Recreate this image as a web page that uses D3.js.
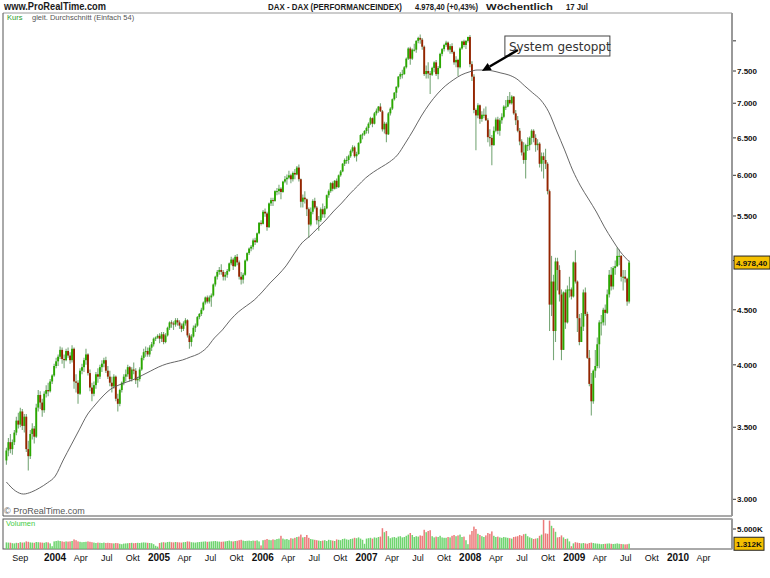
<!DOCTYPE html>
<html>
<head>
<meta charset="utf-8">
<script src="https://cdn.jsdelivr.net/npm/d3@7"></script>
<style>
body { margin: 0; background: #fff; }
svg { display: block; }
</style>
</head>
<body>
<div id="chart"></div>
<script>
var W = 770, H = 578;

// weekly candles, first week starts Monday 14 Jul 2003, last is week of 13 Jul 2009
var firstWeek = "2003-07-14";

var opens = [
	3260,3330,3390,3340,3390,3460,3550,3520,3620,3510,3580,3340,3290,3450,3490,3430,3650,3750,3690,3630,3760,3790,3780,3860,
	3910,3990,4030,4070,4130,4050,4040,4120,4080,4040, 4140,3860,3850,3760,3950,3980,4040,4090,3930,3810, 3760,3830,3920,3900,3980,4010,4040,3950,3900,3850,
	3820,3900,3720,3680,3790,3850,3900,3920,3980,3880, 3960,3950,3870,3880,3960,4060,4110,4120,4090,4150, 4180,4230,4240,
	4256,4230,4270,4200,4260,4330,4380,4370,4360,4400, 4380,4350,4320,4370,4400,4260,4200,4250,4330,4350, 4430,4460,4500,4570,4620,4580,4620,4640,4750,4830,
	4880,4900,4880,4830,4850,4890,4970,5010,4940,5040, 4980,4830,4800,4850,5000,5080,5130,5150,5220,5200, 5300,5420,
	5408,5550,5530,5370,5650,5690,5680,5800,5800,5830, 5790,5920,5950,5970,6000,5950,6030,6010,6100,5950, 5670,5720,5700,5580,5400,5550,5680,5600,5450,5450,
	5580,5520,5590,5750,5800,5900,5830,5930,5850,6000, 6050,6150,6200,6200,6250,6320,6370,6250,6280,6430, 6540,6550,
	6597,6640,6700,6780,6700,6850,6890,6950,6880,6620, 6700,6550,6850,6920,7060,7160,7250,7410,7450,7450, 7560,7700,7870,7700,7850,7850,8000,8050,8020,7900,
	7450,7500,7460,7440,7550,7640,7450,7550,7780,7860, 7930,7970,7850,7910,7810,7640,7680,7560,7870,7990, 7930,8000,
	8067,7610,7410,6900,6820,6970,6770,6830,6830,6750, 6510,6500,6400,6600,6760,6600,6750,6800,6950,6950, 7050,7000,7100,6850,6750,6600,6450,6300,6200,6400,
	6400,6500,6600,6500,6400,6420,6150,6250,6200,6150, 5800,4550,4780,4300,4990,4900,4650,4130,4670,4380, 4700,4700,
	4630,4980,4780,4420,4200,4340,4670,4460,4060,3840, 3700,3950,3990,4180,4380,4380,4500,4470,4650,4850, 4730,4920,4940,5050,5050,4830,4830,4810,4580
];
var highs = [
	3350,3420,3450,3410,3480,3580,3610,3650,3640,3600,3600,3400,3480,3530,3510,3680,3790,3780,3720,3780,3830,3850,3880,3920,
	4010,4060,4090,4160,4150,4090,4140,4150,4110,4170, 4150,3920,3870,3970,4010,4060,4140,4100,3960,3850, 3860,3940,3970,4000,4040,4060,4070,3990,3950,3900,
	3920,3910,3760,3800,3860,3920,3960,4000,3990,3980, 4020,3970,3900,3980,4080,4140,4160,4150,4170,4200, 4240,4250,4270,
	4280,4290,4290,4280,4340,4390,4400,4390,4420,4420, 4400,4370,4390,4420,4410,4280,4270,4350,4370,4440, 4470,4520,4580,4630,4640,4640,4660,4760,4840,4900,
	4930,4960,4900,4880,4910,4980,5040,5030,5060,5070, 5000,4880,4870,5010,5090,5140,5170,5240,5250,5310, 5430,5450,
	5570,5590,5550,5660,5720,5720,5810,5840,5880,5850, 5930,5990,6010,6060,6020,6050,6080,6120,6140,5960, 5760,5800,5710,5600,5600,5700,5720,5620,5500,5600,
	5650,5620,5760,5820,5910,5920,5940,5960,6010,6070, 6160,6220,6250,6270,6340,6400,6390,6310,6440,6550, 6570,6610,
	6660,6720,6800,6790,6870,6920,6960,7000,6900,6730, 6720,6870,6940,7070,7170,7260,7420,7480,7520,7580, 7720,7890,7900,7870,7950,8010,8070,8110,8050,7920,
	7590,7640,7500,7570,7660,7680,7580,7800,7880,7950, 8000,7990,7940,7960,7830,7740,7700,7890,8000,8020, 8010,8070,
	8100,7660,7450,6920,7000,6980,6880,6920,6950,6780, 6620,6540,6660,6790,6800,6780,6850,6970,7050,7110, 7170,7120,7110,6900,6810,6640,6480,6440,6420,6510,
	6520,6620,6620,6550,6480,6440,6300,6300,6350,6170, 5820,5050,4850,5030,5030,4950,4700,4680,4700,4740, 4830,4720,
	4990,5110,4790,4460,4470,4700,4720,4480,4130,3930, 3960,4130,4240,4400,4450,4520,4550,4700,4900,4930, 4940,5000,5140,5120,5060,4900,4900,4820,5000
];
var lows = [
	3230,3290,3310,3300,3370,3440,3490,3500,3480,3460,3320,3190,3270,3410,3380,3420,3620,3640,3580,3610,3730,3740,3770,3840,
	3900,3970,3990,4050,4010,3970,4030,4060,4010,4020, 3800,3770,3680,3750,3920,3940,4000,3910,3780,3700, 3740,3800,3850,3880,3940,3980,3930,3880,3820,3770,
	3800,3700,3620,3660,3770,3830,3860,3900,3860,3860, 3920,3840,3810,3860,3950,4040,4070,4070,4070,4120, 4160,4210,4230,
	4190,4200,4180,4190,4250,4310,4330,4310,4340,4350, 4320,4290,4300,4350,4240,4140,4160,4240,4290,4340, 4410,4440,4490,4550,4560,4560,4530,4630,4730,4800,
	4850,4850,4790,4790,4820,4880,4950,4900,4930,4950, 4800,4750,4760,4840,4990,5060,5100,5120,5170,5190, 5290,5390,
	5400,5490,5330,5360,5620,5620,5670,5750,5760,5700, 5780,5900,5880,5950,5900,5920,5950,6000,5920,5600, 5600,5650,5500,5250,5380,5520,5580,5400,5330,5430,
	5480,5480,5580,5720,5780,5800,5820,5830,5840,5980, 6040,6120,6150,6150,6230,6300,6230,6180,6270,6420, 6480,6530,
	6560,6560,6680,6650,6690,6820,6860,6870,6590,6560, 6440,6540,6820,6900,7040,7080,7230,7370,7380,7440, 7540,7680,7600,7680,7820,7800,7960,7950,7850,7420,
	7380,7380,7140,7420,7480,7420,7370,7540,7740,7820, 7900,7820,7780,7780,7600,7560,7420,7540,7850,7890, 7860,7970,
	7560,7340,6850,6330,6780,6700,6730,6780,6740,6440, 6380,6130,6390,6580,6550,6530,6700,6780,6900,6940, 6980,6980,6830,6680,6580,6400,6260,6150,5960,6320,
	6330,6410,6440,6310,6330,6100,6050,5960,6080,5760, 4300,4440,4040,4200,4690,4580,4040,4130,4320,4370, 4620,4600,
	4620,4760,4290,4170,4200,4300,4440,4050,3820,3590, 3680,3890,3970,3970,4260,4350,4350,4460,4620,4690, 4700,4850,4930,4950,4780,4690,4770,4540,4560
];
var closes = [
	3330,3390,3340,3390,3460,3550,3520,3620,3510,3580,3340,3290,3450,3490,3430,3650,3750,3690,3630,3760,3790,3780,3860,3910,
	3990,4030,4070,4130,4050,4040,4120,4080,4040,4140, 3860,3850,3760,3950,3980,4040,4090,3930,3810,3760, 3830,3920,3900,3980,4010,4040,3950,3900,3850,3820,
	3900,3720,3680,3790,3850,3900,3920,3980,3880,3960, 3950,3870,3880,3960,4060,4110,4120,4090,4150,4180, 4230,4240,4256,
	4230,4270,4200,4260,4330,4380,4370,4360,4400,4380, 4350,4320,4370,4400,4260,4200,4250,4330,4350,4430, 4460,4500,4570,4620,4580,4620,4640,4750,4830,4880,
	4900,4880,4830,4850,4890,4970,5010,4940,5040,4980, 4830,4800,4850,5000,5080,5130,5150,5220,5200,5300, 5420,5408,
	5550,5530,5370,5650,5690,5680,5800,5800,5830,5790, 5920,5950,5970,6000,5950,6030,6010,6100,5950,5670, 5720,5700,5580,5400,5550,5680,5600,5450,5450,5580,
	5520,5590,5750,5800,5900,5830,5930,5850,6000,6050, 6150,6200,6200,6250,6320,6370,6250,6280,6430,6540, 6550,6597,
	6640,6700,6780,6700,6850,6890,6950,6880,6620,6700, 6550,6850,6920,7060,7160,7250,7410,7450,7450,7560, 7700,7870,7700,7850,7850,8000,8050,8020,7900,7450,
	7500,7460,7440,7550,7640,7450,7550,7780,7860,7930, 7970,7850,7910,7810,7640,7680,7560,7870,7990,7930, 8000,8067,
	7610,7410,6900,6820,6970,6770,6830,6830,6750,6510, 6500,6400,6600,6760,6600,6750,6800,6950,6950,7050, 7000,7100,6850,6750,6600,6450,6300,6200,6400,6400,
	6500,6600,6500,6400,6420,6150,6250,6200,6150,5800, 4550,4780,4300,4990,4900,4650,4130,4670,4380,4700, 4700,4630,
	4980,4780,4420,4200,4340,4670,4460,4060,3840,3700, 3950,3990,4180,4380,4380,4500,4470,4650,4850,4730, 4920,4940,5050,5050,4830,4830,4810,4580,4978.4
];
// weekly volume in thousands
var volumes = [
	1650,1600,1580,1450,1400,1550,1500,1700,1600,1650,1900,1800,1650,1600,1550,1750,1700,1650,1600,1550,1700,1650,1400,700,
	1900,2000,2100,2000,1900,1800,1900,1850,1900,2000, 2400,2200,1900,1800,1700,1750,1800,1900,1800,1700, 1600,1500,1600,1550,1500,1600,1500,1550,1500,1450,
	1400,1500,1450,1300,1200,1350,1400,1450,1500,1550, 1450,1500,1550,1500,1600,1650,1600,1550,1500,1450, 1200,800,600,
	1500,1650,1700,1600,1750,1800,1700,1650,1750,1700, 1650,1600,1700,1750,1900,1850,1700,1650,1600,1700, 1750,1800,1850,1900,1800,1850,1900,1950,2000,1900,
	1850,1800,1850,1900,2000,2100,1950,1900,2000,2050, 2200,2300,2100,2000,2050,2100,2000,2100,2050,2150, 1900,900,
	2200,2300,2500,2300,2200,2400,2300,2500,2600,3300, 2600,2400,2500,2300,2700,2600,2800,3000,3100,3600, 2900,3000,3500,2800,2500,2400,2300,2200,2100,2000,
	2100,2200,2000,2300,2200,2100,2000,2400,2300,2200, 2500,2600,2400,2300,2500,2600,2800,2700,2900,2600, 2300,1300,
	2600,2700,2800,2600,2900,2800,3000,3100,5200,4200, 4500,3200,2700,2900,3000,2800,3100,3200,2900,3000, 3300,3600,4000,3500,3000,3200,3100,3400,3300,4800,
	4200,4500,4700,3200,2900,3100,3000,3300,2900,2800, 2800,3000,2900,3300,3500,3200,3400,3600,3000,3100, 2200,1200,
	3600,4500,5600,5000,3800,3500,3200,3000,3400,4000, 3800,4400,3300,3000,3100,2900,2800,3000,2900,2800, 2700,2600,3000,3100,3200,3500,3300,3700,3800,3200,
	2900,2700,2500,2600,2700,3300,3600,7300,3900,3800, 7100,5800,5200,4300,2900,3000,3400,2900,2500,2600, 1900,700,
	1400,1700,1600,1500,1400,1500,1400,1300,1500,1600, 1500,1400,1350,1300,1200,1250,1300,1350,1400,1300, 1250,1300,1400,1300,1250,1200,1150,1200,1312
];

// gleit. Durchschnitt (Einfach 54)
var maDates = [
	"2003-07-14","2003-08-15","2003-09-12","2003-10-10","2003-11-07","2003-12-05",
	"2004-01-02","2004-01-30","2004-02-27","2004-03-26","2004-04-23","2004-05-21","2004-06-18","2004-07-16","2004-08-13","2004-09-10","2004-10-08","2004-11-05","2004-12-03","2004-12-31",
	"2005-01-28","2005-02-25","2005-03-25","2005-04-22","2005-05-20","2005-06-17","2005-07-15","2005-08-12","2005-09-09","2005-10-07","2005-11-04","2005-12-02","2005-12-30",
	"2006-01-27","2006-02-24","2006-03-24","2006-04-21","2006-05-19","2006-06-16","2006-07-14","2006-08-11","2006-09-08","2006-10-06","2006-11-03","2006-12-01","2006-12-29",
	"2007-01-26","2007-02-23","2007-03-23","2007-04-20","2007-05-18","2007-06-15","2007-07-13","2007-08-10","2007-09-07","2007-10-05","2007-11-02","2007-11-30","2007-12-28",
	"2008-01-25","2008-02-22","2008-03-21","2008-04-18","2008-05-16","2008-06-13","2008-07-11","2008-08-08","2008-09-05","2008-10-03","2008-10-31","2008-11-28","2008-12-26",
	"2009-01-23","2009-02-20","2009-03-20","2009-04-17","2009-05-15","2009-06-12","2009-07-13"
];
var maValues = [
	3113,3054,3034,3047,3073,3107,
	3153,3263,3370,3480,3593,3671,3742,3799,3831,3856,3881,3914,3948,3982,
	4008,4025,4042,4068,4095,4147,4237,4310,4403,4479,4537,4595,4675,
	4766,4848,4943,5071,5192,5270,5361,5453,5559,5655,5765,5865,5966,
	6043,6108,6174,6267,6430,6611,6812,6989,7140,7263,7357,7436,7484,
	7516,7516,7500,7468,7436,7373,7263,7156,7049,6872,6597,6335,6069,
	5865,5704,5547,5373,5226,5095,4990
];

// the 5.000 label sits under the last-price box, so it is left blank
var priceTicks = [3000, 3500, 4000, 4500, 5000, 5500, 6000, 6500, 7000, 7500, 8000];
var priceTickLabels = ["3.000", "3.500", "4.000", "4.500", "", "5.500", "6.000", "6.500", "7.000", "7.500", ""];

var xTickMonths = [
	"2003-09",
	"2004-01", "2004-04", "2004-07", "2004-10",
	"2005-01", "2005-04", "2005-07", "2005-10",
	"2006-01", "2006-04", "2006-07", "2006-10",
	"2007-01", "2007-04", "2007-07", "2007-10",
	"2008-01", "2008-04", "2008-07", "2008-10",
	"2009-01", "2009-04", "2009-07", "2009-10",
	"2010-01", "2010-04"
];
var xTickLabels = [
	"Sep",
	"2004", "Apr", "Jul", "Okt",
	"2005", "Apr", "Jul", "Okt",
	"2006", "Apr", "Jul", "Okt",
	"2007", "Apr", "Jul", "Okt",
	"2008", "Apr", "Jul", "Okt",
	"2009", "Apr", "Jul", "Okt",
	"2010", "Apr"
];

var lastPrice = 4978.40;
var lastVolume = 1312;

var parseDay = d3.timeParse("%Y-%m-%d");
var parseMonth = d3.timeParse("%Y-%m");
var t0 = parseDay(firstWeek);

var weeks = closes.map(function(c, i){
	return {date: d3.timeDay.offset(t0, 7 * i), o: opens[i], h: highs[i], l: lows[i], c: c, v: volumes[i]};
});
var ma = maDates.map(function(d, i){ return {date: parseDay(d), v: maValues[i]}; });

// panels
var left = 3, right = 732;
var mainTop = 13, mainBottom = 516;
var volTop = 519, volBottom = 549;

var x = d3.scaleTime()
	.domain([new Date(2004, 0, 1), new Date(2010, 0, 1)])
	.range([55, 678]);
var y = d3.scaleLog()
	.domain([3000, 7500])
	.range([499.3, 71]);
var yv = d3.scaleLinear()
	.domain([0, 5000])
	.range([volBottom, 529]);

var svg = d3.select("#chart").append("svg")
	.attr("width", W)
	.attr("height", H)
	.style("font-family", "'Liberation Sans', Arial, sans-serif");

svg.append("rect").attr("width", W).attr("height", H).attr("fill", "#fff");

var defs = svg.append("defs");
defs.append("clipPath").attr("id", "clipMain")
	.append("rect").attr("x", left).attr("y", mainTop).attr("width", right - left).attr("height", mainBottom - mainTop);
defs.append("clipPath").attr("id", "clipVol")
	.append("rect").attr("x", left).attr("y", volTop).attr("width", right - left).attr("height", volBottom - volTop);

// header
var header = [
	{x: 4, w: 102, s: 10.5, t: "www.ProRealTime.com"},
	{x: 268, w: 134, s: 9, t: "DAX - DAX (PERFORMANCEINDEX)"},
	{x: 415, w: 63, s: 9, t: "4.978,40 (+0,43%)"},
	{x: 486, w: 67, s: 9, t: "Wöchentlich"},
	{x: 566, w: 22, s: 9, t: "17 Jul"}
];
svg.selectAll("text.head").data(header).join("text")
	.attr("class", "head")
	.attr("x", function(d){ return d.x; }).attr("y", 10)
	.attr("font-size", function(d){ return d.s; }).attr("font-weight", "bold").attr("fill", "#1a1a1a")
	.attr("textLength", function(d){ return d.w; }).attr("lengthAdjust", "spacingAndGlyphs")
	.text(function(d){ return d.t; });

// frames
svg.append("line").attr("x1", left).attr("x2", right).attr("y1", mainTop).attr("y2", mainTop)
	.attr("stroke", "#999").attr("stroke-width", 1);
svg.append("line").attr("x1", left).attr("x2", left).attr("y1", mainTop).attr("y2", mainBottom)
	.attr("stroke", "#555").attr("stroke-width", 1);
svg.append("line").attr("x1", left).attr("x2", right).attr("y1", mainBottom).attr("y2", mainBottom)
	.attr("stroke", "#555").attr("stroke-width", 1);
svg.append("rect").attr("x", left).attr("y", volTop).attr("width", right - left).attr("height", volBottom - volTop)
	.attr("fill", "none").attr("stroke", "#555").attr("stroke-width", 1);
svg.append("line").attr("x1", right).attr("x2", right).attr("y1", mainTop).attr("y2", mainBottom)
	.attr("stroke", "#999").attr("stroke-width", 2);
svg.append("line").attr("x1", right).attr("x2", right).attr("y1", volTop).attr("y2", volBottom)
	.attr("stroke", "#999").attr("stroke-width", 2);

// legend
svg.append("text").attr("x", 7).attr("y", 20).attr("font-size", 7.5).attr("fill", "#2a9a2a").text("Kurs");
svg.append("text").attr("x", 32).attr("y", 20).attr("font-size", 7.5).attr("fill", "#555").text("gleit. Durchschnitt (Einfach 54)");
svg.append("text").attr("x", 4).attr("y", 514).attr("font-size", 9).attr("fill", "#555").text("© ProRealTime.com");
svg.append("text").attr("x", 6).attr("y", 526).attr("font-size", 7.5).attr("fill", "#44cc44").text("Volumen");

// price axis
var yAxis = svg.append("g");
yAxis.selectAll("line").data(priceTicks).join("line")
	.attr("x1", right + 1).attr("x2", right + 4)
	.attr("y1", function(d){ return y(d); }).attr("y2", function(d){ return y(d); })
	.attr("stroke", "#333");
yAxis.selectAll("text").data(priceTicks).join("text")
	.attr("x", right + 5).attr("y", function(d){ return y(d) + 3; })
	.attr("font-size", 8).attr("font-weight", "bold").attr("fill", "#111")
	.text(function(d, i){ return priceTickLabels[i]; });

// candles
var cg = svg.append("g").attr("clip-path", "url(#clipMain)");
cg.selectAll("line.wick").data(weeks).join("line")
	.attr("class", "wick")
	.attr("x1", function(d){ return x(d.date); }).attr("x2", function(d){ return x(d.date); })
	.attr("y1", function(d){ return y(d.h); }).attr("y2", function(d){ return y(d.l); })
	.attr("stroke", "#79a879").attr("stroke-width", 1.1);
cg.selectAll("rect.body").data(weeks).join("rect")
	.attr("class", "body")
	.attr("x", function(d){ return x(d.date) - 0.95; })
	.attr("width", 1.9)
	.attr("y", function(d){ return y(Math.max(d.o, d.c)); })
	.attr("height", function(d){ return Math.max(1, Math.abs(y(d.o) - y(d.c))); })
	.attr("fill", function(d){ return d.c >= d.o ? "#2aa800" : "#962400"; });

// moving average
cg.append("path").datum(ma)
	.attr("fill", "none").attr("stroke", "#555").attr("stroke-width", 0.9)
	.attr("d", d3.line()
		.x(function(d){ return x(d.date); })
		.y(function(d){ return y(d.v); })
		.curve(d3.curveMonotoneX));

// last price label
var ly = y(lastPrice);
svg.append("rect").attr("x", right + 2).attr("y", ly - 6.5).attr("width", 36).attr("height", 13)
	.attr("fill", "#f5c000").attr("stroke", "#222").attr("stroke-width", 1);
svg.append("text").attr("x", right + 4).attr("y", ly + 3)
	.attr("font-size", 8).attr("font-weight", "bold").attr("fill", "#111")
	.text(d3.format(",.2f")(lastPrice).replace(/,/g, "#").replace(".", ",").replace(/#/g, "."));

// annotation
var tip = [x(parseDay("2008-02-11")), y(7500)];
var boxX = tip[0] + 23, boxY = tip[1] - 35;
svg.append("rect").attr("x", boxX).attr("y", boxY).attr("width", 105).attr("height", 20)
	.attr("fill", "#fff").attr("stroke", "#444").attr("stroke-width", 1);
svg.append("text").attr("x", boxX + 4).attr("y", boxY + 15)
	.attr("font-family", "'DejaVu Sans', sans-serif").attr("font-size", 12).attr("fill", "#333")
	.text("System gestoppt");
var tail = [boxX + 13, boxY + 14];
var dx = tip[0] - tail[0], dy = tip[1] - tail[1], len = Math.sqrt(dx * dx + dy * dy);
var ux = dx / len, uy = dy / len;
var base = [tip[0] - 9 * ux, tip[1] - 9 * uy];
svg.append("line").attr("x1", tail[0]).attr("y1", tail[1]).attr("x2", base[0]).attr("y2", base[1])
	.attr("stroke", "#000").attr("stroke-width", 2.5);
svg.append("polygon")
	.attr("points", [tip, [base[0] - 4 * uy, base[1] + 4 * ux], [base[0] + 4 * uy, base[1] - 4 * ux]].map(function(p){ return p.join(","); }).join(" "))
	.attr("fill", "#000");

// volume
var vg = svg.append("g").attr("clip-path", "url(#clipVol)");
vg.selectAll("rect").data(weeks).join("rect")
	.attr("x", function(d){ return x(d.date) - 0.75; })
	.attr("width", 1.5)
	.attr("y", function(d){ return yv(d.v); })
	.attr("height", function(d){ return volBottom - yv(d.v); })
	.attr("fill", function(d){ return d.c >= d.o ? "#6fd46f" : "#ec7a7a"; });

svg.append("line").attr("x1", right + 1).attr("x2", right + 4).attr("y1", yv(5000)).attr("y2", yv(5000)).attr("stroke", "#333");
svg.append("text").attr("x", right + 5).attr("y", yv(5000) + 3)
	.attr("font-size", 8).attr("font-weight", "bold").attr("fill", "#111").text("5.000K");
var vy = yv(lastVolume);
svg.append("rect").attr("x", right + 2).attr("y", vy - 6.5).attr("width", 30).attr("height", 13)
	.attr("fill", "#f5c000").attr("stroke", "#222").attr("stroke-width", 1);
svg.append("text").attr("x", right + 4).attr("y", vy + 3)
	.attr("font-size", 8).attr("font-weight", "bold").attr("fill", "#111")
	.text(d3.format(",")(lastVolume).replace(",", ".") + "K");

// time axis
svg.selectAll("text.xl").data(xTickMonths).join("text")
	.attr("class", "xl")
	.attr("x", function(d){ return x(parseMonth(d)); })
	.attr("y", 561)
	.attr("text-anchor", "middle")
	.attr("font-size", function(d, i){ return /^\d{4}$/.test(xTickLabels[i]) ? 10 : 9; })
	.attr("font-weight", function(d, i){ return /^\d{4}$/.test(xTickLabels[i]) ? "bold" : "normal"; })
	.attr("fill", "#111")
	.text(function(d, i){ return xTickLabels[i]; });
</script>
</body>
</html>
